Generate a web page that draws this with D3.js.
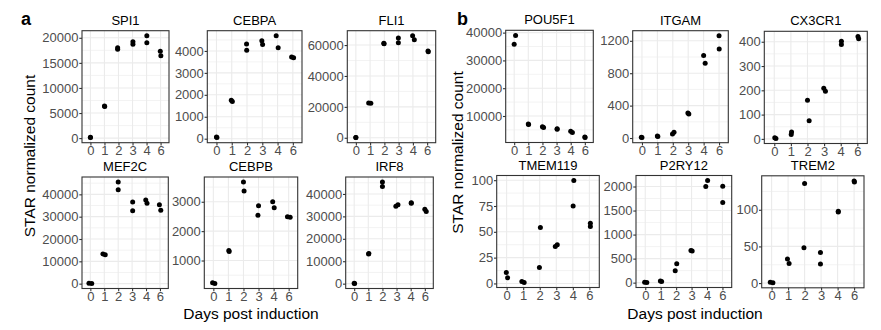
<!DOCTYPE html>
<html><head><meta charset="utf-8">
<script src="https://cdn.jsdelivr.net/npm/d3@7"></script>
<style>body{margin:0;background:#fff} svg{display:block}</style>
</head><body>
<svg id="chart" width="881" height="330"></svg>
<script>
// ---------- data ----------
const days = ["0", "1", "2", "3", "4", "6"];
const replicateDays = ["0","0","1","1","2","2","3","3","4","4","6","6"];

const SPI1    = [100, 150, 6400, 6300, 18000, 17700, 19200, 18700, 20400, 19000, 17300, 16400];
const CEBPA   = [80, 50, 1750, 1700, 4320, 4030, 4460, 4290, 4690, 4140, 3720, 3690];
const FLI1    = [200, 100, 22500, 22300, 61200, 60800, 64500, 61500, 66000, 63400, 56200, 55700];
const MEF2C   = [200, 100, 13300, 13000, 45500, 42100, 36600, 32700, 37500, 36000, 35300, 32900];
const CEBPB   = [240, 220, 1340, 1310, 3670, 3370, 2860, 2540, 3000, 2800, 2490, 2470];
const IRF8    = [200, 100, 13400, 13200, 45300, 43300, 35200, 34500, 36100, 35900, 33200, 32200];
const POU5F1  = [39000, 35800, 7100, 6900, 6100, 5900, 5400, 5200, 4500, 4030, 2400, 2300];
const ITGAM   = [10, 5, 25, 20, 50, 70, 310, 295, 1018, 923, 1262, 1100];
const CX3CR1  = [5, 2, 28, 18, 159, 75, 209, 196, 402, 389, 422, 412];
const TMEM119 = [10.6, 5.5, 1.9, 1.0, 54.2, 15.5, 37.4, 35.8, 99.6, 75.1, 58.4, 55.1];
const P2RY12  = [10, 5, 35, 25, 249, 394, 671, 657, 1998, 2123, 2006, 1666];
const TREM2   = [1, 0.5, 33, 26.6, 135.8, 48.1, 41.7, 26.1, 98, 97, 139.4, 138];

// small horizontal jitter (fraction of a day slot)
const SPI1_jit    = [0, 0, 0, 0.02, -0.06, -0.06, 0.03, 0.03, 0.02, 0.02, -0.02, 0.02];
const CEBPA_jit   = [0, 0.03, -0.03, 0.04, -0.03, -0.02, -0.03, 0.02, -0.09, 0.04, -0.08, 0.05];
const FLI1_jit    = [0, 0, -0.1, 0.05, -0.04, -0.02, -0.02, -0.02, -0.02, 0.1, 0.06, 0.08];
const MEF2C_jit   = [-0.1, 0.1, -0.1, 0.07, 0, 0, 0.04, 0.04, -0.02, 0.07, -0.04, 0.06];
const CEBPB_jit   = [-0.05, 0.1, 0.03, 0.05, 0, 0.04, 0, -0.04, -0.06, 0.04, -0.08, 0.1];
const IRF8_jit    = [0, 0.03, 0.04, 0.02, 0, 0, 0.1, -0.05, 0.04, 0.04, 0, 0.1];
const POU5F1_jit  = [0.1, 0, 0, 0.02, 0, 0.08, 0.04, 0.04, 0, 0.12, 0, 0.02];
const ITGAM_jit   = [-0.04, 0, 0, 0.03, -0.02, 0.08, -0.02, 0.04, 0, 0.1, 0, 0.01];
const CX3CR1_jit  = [0.03, 0.1, 0.04, 0.02, 0, 0.1, -0.02, 0.08, 0.04, 0.04, 0.04, 0.08];
const TMEM119_jit = [-0.02, 0.06, -0.08, 0.06, 0.04, -0.02, 0.06, -0.06, 0.06, 0.02, 0.06, 0.06];
const P2RY12_jit  = [-0.04, 0.1, -0.02, 0.06, -0.06, 0.04, -0.04, 0.04, -0.08, 0.04, 0.02, 0.02];
const TREM2_jit   = [-0.08, 0.08, -0.04, 0.06, 0, -0.04, -0.04, -0.04, 0.04, 0.04, 0, 0.02];

const SPI1_ticks    = [0, 5000, 10000, 15000, 20000];
const CEBPA_ticks   = [0, 1000, 2000, 3000, 4000];
const FLI1_ticks    = [0, 20000, 40000, 60000];
const MEF2C_ticks   = [0, 10000, 20000, 30000, 40000];
const CEBPB_ticks   = [1000, 2000, 3000];
const IRF8_ticks    = [0, 10000, 20000, 30000, 40000];
const POU5F1_ticks  = [10000, 20000, 30000, 40000];
const ITGAM_ticks   = [0, 400, 800, 1200];
const CX3CR1_ticks  = [0, 100, 200, 300, 400];
const TMEM119_ticks = [0, 25, 50, 75, 100];
const P2RY12_ticks  = [0, 500, 1000, 1500, 2000];
const TREM2_ticks   = [0, 50, 100];

const yTitle = "STAR normalized count";
const xTitle = "Days post induction";
const panelLetters = ["a", "b"];

// ---------- layout ----------
const FONT = "'Liberation Sans', Arial, Helvetica, sans-serif";
const panels = [
  {name: "SPI1",    v: SPI1,    j: SPI1_jit,    t: SPI1_ticks,    r: [82, 169, 30.7, 142.7]},
  {name: "CEBPA",   v: CEBPA,   j: CEBPA_jit,   t: CEBPA_ticks,   r: [207.3, 302, 30.7, 142.7]},
  {name: "FLI1",    v: FLI1,    j: FLI1_jit,    t: FLI1_ticks,    r: [347.3, 435.7, 30.7, 142.7]},
  {name: "MEF2C",   v: MEF2C,   j: MEF2C_jit,   t: MEF2C_ticks,   r: [82, 168.3, 177, 288.5]},
  {name: "CEBPB",   v: CEBPB,   j: CEBPB_jit,   t: CEBPB_ticks,   r: [204.3, 297.7, 177, 288.5]},
  {name: "IRF8",    v: IRF8,    j: IRF8_jit,    t: IRF8_ticks,    r: [345.7, 433.3, 177, 288.5]},
  {name: "POU5F1",  v: POU5F1,  j: POU5F1_jit,  t: POU5F1_ticks,  r: [505.7, 593.3, 30.3, 142.5]},
  {name: "ITGAM",   v: ITGAM,   j: ITGAM_jit,   t: ITGAM_ticks,   r: [632.7, 728.3, 30.7, 142.7]},
  {name: "CX3CR1",  v: CX3CR1,  j: CX3CR1_jit,  t: CX3CR1_ticks,  r: [764.3, 867.3, 31.3, 143.5]},
  {name: "TMEM119", v: TMEM119, j: TMEM119_jit, t: TMEM119_ticks, r: [496.7, 599.3, 175.5, 287.5]},
  {name: "P2RY12",  v: P2RY12,  j: P2RY12_jit,  t: P2RY12_ticks,  r: [636, 731.7, 175.5, 287.5]},
  {name: "TREM2",   v: TREM2,   j: TREM2_jit,   t: TREM2_ticks,   r: [761.7, 864, 175.8, 287.8]}
];

const svg = d3.select("#chart");
svg.append("rect").attr("width", 881).attr("height", 330).attr("fill", "#fff");

panels.forEach(p => {
  const [x0, x1, y0, y1] = p.r;
  const x = d3.scalePoint().domain(days).range([x0, x1]).padding(0.6);
  const [mn, mx] = d3.extent(p.v);
  const pad = (mx - mn) * 0.05;
  const y = d3.scaleLinear().domain([mn - pad, mx + pad]).range([y1, y0]);
  const g = svg.append("g");

  // minor y gridlines (ggplot-style midpoints)
  const t = p.t, step = t[1] - t[0];
  const ext = [t[0] - step, ...t, t[t.length - 1] + step];
  const minors = d3.range(ext.length - 1).map(i => (ext[i] + ext[i + 1]) / 2)
    .filter(v => v >= y.domain()[0] && v <= y.domain()[1]);
  g.selectAll(".minor").data(minors).join("line")
    .attr("x1", x0).attr("x2", x1).attr("y1", d => y(d)).attr("y2", d => y(d))
    .attr("stroke", "#EBEBEB").attr("stroke-width", 0.6);
  g.selectAll(".majory").data(t).join("line")
    .attr("x1", x0).attr("x2", x1).attr("y1", d => y(d)).attr("y2", d => y(d))
    .attr("stroke", "#EBEBEB").attr("stroke-width", 1.1);
  g.selectAll(".majorx").data(days).join("line")
    .attr("x1", d => x(d)).attr("x2", d => x(d)).attr("y1", y0).attr("y2", y1)
    .attr("stroke", "#EBEBEB").attr("stroke-width", 1.1);

  // points
  g.selectAll("circle").data(p.v).join("circle")
    .attr("cx", (d, i) => x(replicateDays[i]) + p.j[i] * x.step())
    .attr("cy", d => y(d))
    .attr("r", 2.5).attr("fill", "#000");

  // border
  g.append("rect").attr("x", x0).attr("y", y0).attr("width", x1 - x0).attr("height", y1 - y0)
    .attr("fill", "none").attr("stroke", "#333333").attr("stroke-width", 1.1);

  // axes
  const ya = g.append("g").attr("transform", `translate(${x0},0)`)
    .call(d3.axisLeft(y).tickValues(t).tickSize(2.7).tickPadding(0.8).tickFormat(d3.format("d")));
  const xa = g.append("g").attr("transform", `translate(0,${y1})`)
    .call(d3.axisBottom(x).tickSize(2.7).tickPadding(0.4));
  [ya, xa].forEach(a => {
    a.select(".domain").remove();
    a.selectAll("line").attr("stroke", "#333333").attr("stroke-width", 1.1);
    a.selectAll("text").attr("fill", "#4D4D4D").style("font-family", FONT).style("font-size", "13px");
  });

  // title
  g.append("text").attr("x", (x0 + x1) / 2).attr("y", y0 - 6).attr("text-anchor", "middle")
    .style("font-family", FONT).style("font-size", "13px").attr("fill", "#000").text(p.name);
});

// axis titles and panel letters
const groups = [
  {letter: panelLetters[0], lx: 21, ytx: 35, yty: 156, xtx: 251},
  {letter: panelLetters[1], lx: 457, ytx: 463.3, yty: 152.5, xtx: 695}
];
groups.forEach(gr => {
  svg.append("text").attr("x", gr.lx).attr("y", 25).style("font-family", FONT)
    .style("font-size", "18px").style("font-weight", "bold").attr("fill", "#000").text(gr.letter);
  svg.append("text").attr("transform", `translate(${gr.ytx},${gr.yty}) rotate(-90)`)
    .attr("text-anchor", "middle").style("font-family", FONT).style("font-size", "15.5px")
    .attr("fill", "#000").text(yTitle);
  svg.append("text").attr("x", gr.xtx).attr("y", 318.5).attr("text-anchor", "middle")
    .style("font-family", FONT).style("font-size", "15.5px").attr("fill", "#000").text(xTitle);
});
</script>
</body></html>
